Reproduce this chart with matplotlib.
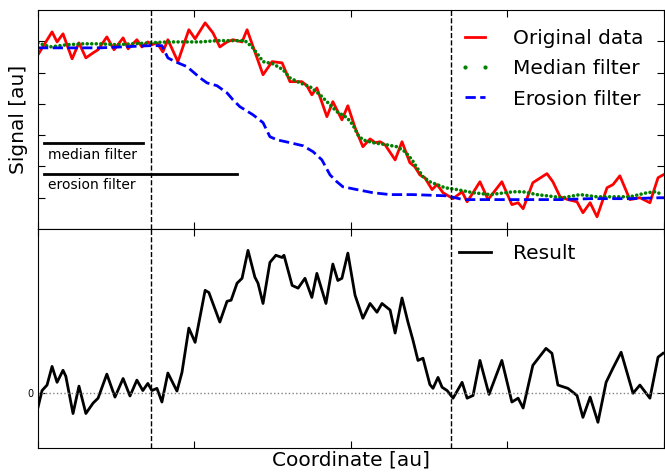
import matplotlib
matplotlib.use('Agg')
import matplotlib.pyplot as plt
from matplotlib.lines import Line2D

# Original noisy signal (coordinate, signal)
orig_x = [0, 4.5, 6.1, 8.0, 10.9, 13.1, 15.3, 17.6, 19.2, 22.0, 24.3, 27.2, 28.8, 31.6, 33.2,
          35.1, 36.4, 38.0, 39.9, 41.5, 44.7, 48.2, 50.2, 53.4, 55.9, 58.1, 60.4, 62.3, 65.2,
          66.8, 71.9, 74.8, 78.0, 80.5, 84.3, 85.9, 87.5, 89.1, 92.3, 94.2, 97.1, 99.0, 101.3,
          103.8, 106.1, 107.7, 109.3, 110.9, 114.1, 116.3, 118.8, 120.4, 122.0, 123.6, 125.9,
          127.5, 129.4, 132.6, 135.5, 137.1, 139.0, 141.2, 143.8, 148.2, 151.4, 153.4, 155.0,
          158.1, 162.6, 164.5, 166.8, 169.3, 172.2, 174.1, 176.4, 178.6, 181.8, 183.7, 185.9,
          189.1, 192.3, 195.5, 198.1, 199.7]
orig_y = [4.57, 5.30, 4.98, 5.24, 4.44, 4.95, 4.47, 4.63, 4.73, 5.14, 4.73, 5.11, 4.76, 5.05, 4.82,
          4.98, 4.89, 4.95, 4.66, 5.05, 4.35, 5.37, 5.08, 5.59, 5.27, 4.82, 4.98, 5.05, 4.98,
          5.37, 3.93, 4.35, 4.31, 3.71, 3.71, 3.58, 3.29, 3.51, 2.59, 3.07, 2.49, 2.94, 2.24,
          1.63, 1.88, 1.76, 1.79, 1.69, 1.21, 1.79, 1.12, 0.99, 0.73, 0.64, 0.26,
          0.42, 0.16, -0.03, 0.19, -0.13, 0.16, 0.51, -0.06, 0.51, -0.22, -0.16, -0.35,
          0.48, 0.77, 0.51, 0.03, -0.06, -0.13, -0.48, -0.16, -0.61, 0.32, 0.42, 0.70,
          -0.06, 0.00, -0.16, 0.64, 0.73]

# Median filtered signal
med_x = [0, 3.8, 9.3, 14.4, 19.8, 25.2, 30.4, 35.8, 41.2, 46.3, 51.8, 57.2, 62.3, 66.1, 68.4,
         70.3, 71.9, 75.1, 78.3, 80.5, 83.7, 86.9, 90.1, 93.3, 95.5, 98.7, 100.6, 102.2, 103.8,
         107.0, 111.5, 114.7, 117.3, 119.5, 121.1, 123.0, 125.2, 127.5, 130.0, 133.9, 139.0,
         144.4, 151.8, 155.0, 159.4, 167.7, 173.2, 178.6, 183.7, 189.1, 194.6, 197.1, 199.7]
med_y = [4.95, 4.82, 4.89, 4.92, 4.92, 4.89, 4.92, 4.95, 4.98, 4.98, 4.98, 5.02, 5.02, 5.02, 4.82,
         4.57, 4.35, 4.28, 4.09, 3.83, 3.67, 3.55, 3.29, 2.97, 2.75, 2.56, 2.33, 2.01, 1.85,
         1.76, 1.69, 1.63, 1.47, 1.21, 0.96, 0.67, 0.51, 0.42, 0.32, 0.26, 0.16,
         0.10, 0.19, 0.19, 0.10, 0.00, 0.10, 0.03, 0.03, 0.03, 0.16, 0.19, 0.10]

# Erosion filtered signal
ero_x = [0, 19.8, 35.8, 39.6, 41.5, 43.8, 47.6, 51.8, 54.0, 57.2, 60.4, 62.3, 64.5, 68.7, 71.9,
         74.1, 76.4, 80.5, 84.7, 87.9, 90.7, 93.3, 95.5, 97.4, 101.9, 107.0, 112.5, 119.8,
         130.7, 135.8, 166.8, 176.4, 189.1, 198.7, 200]
ero_y = [4.79, 4.79, 4.86, 4.86, 4.47, 4.35, 4.19, 3.83, 3.67, 3.58, 3.35, 3.13, 2.91, 2.65, 2.40,
         1.95, 1.85, 1.76, 1.66, 1.47, 1.21, 0.73, 0.51, 0.35, 0.26, 0.16, 0.10, 0.10,
         0.06, -0.06, -0.06, -0.03, -0.03, 0.00, 0.00]

# Result (bottom panel)
res_x = [0, 1.3, 2.9, 4.5, 6.1, 8.0, 8.9, 11.2, 13.1, 15.3, 17.6, 19.2, 22.0, 24.6, 27.2, 29.4,
         31.6, 33.5, 35.1, 36.4, 38.0, 39.6, 41.5, 44.4, 46.0, 48.2, 50.2, 53.4, 54.6, 58.1,
         60.4, 61.7, 63.6, 65.2, 67.1, 69.3, 70.3, 71.9, 74.1, 76.0, 78.0, 78.6, 81.2, 83.1,
         85.3, 87.5, 89.1, 92.0, 94.2, 95.8, 97.1, 99.0, 101.3, 103.8, 106.1, 108.3, 109.9,
         112.5, 114.1, 116.3, 118.2, 119.8, 121.4, 123.0, 125.2, 126.2, 127.8, 129.1, 130.7,
         132.6, 135.5, 137.1, 139.0, 141.2, 144.1, 148.2, 151.4, 153.4, 155.0, 158.1, 162.3,
         164.2, 166.1, 169.3, 172.2, 174.1, 176.4, 178.9, 181.5, 183.7, 186.3, 190.1, 192.3,
         195.5, 198.1, 199.7]
res_y = [-0.26, 0.05, 0.15, 0.49, 0.20, 0.42, 0.31, -0.37, 0.13, -0.37, -0.18, -0.09, 0.35, -0.07,
         0.27, -0.05, 0.24, 0.05, 0.18, 0.05, 0.09, -0.16, 0.37, 0.04, 0.38, 1.19, 0.93, 1.88,
         1.84, 1.30, 1.68, 1.70, 2.01, 2.10, 2.61, 2.12, 2.01, 1.64, 2.39, 2.52, 2.48, 2.52,
         1.97, 1.92, 2.10, 1.75, 2.19, 1.64, 2.36, 2.06, 2.10, 2.56, 1.79, 1.37, 1.64, 1.48,
         1.64, 1.52, 1.10, 1.74, 1.30, 0.97, 0.60, 0.64, 0.16, 0.09, 0.29, 0.11, 0.05,
         -0.09, 0.20, -0.09, -0.04, 0.60, -0.02, 0.60, -0.16, -0.09, -0.27, 0.51, 0.82,
         0.73, 0.15, 0.09, -0.04, -0.44, -0.07, -0.53, 0.20, 0.46, 0.75, 0.00, 0.15,
         -0.09, 0.66, 0.73]

# Filter window sizes and marked region
median_window = (1.9, 33.5)
erosion_window = (1.9, 63.6)
region = [36, 132]

fig = plt.figure(figsize=(6.65, 4.72), dpi=100)
ax1 = fig.add_axes([0.0571, 0.5148, 0.9414, 0.464])
ax2 = fig.add_axes([0.0571, 0.0508, 0.9414, 0.464], sharex=ax1)

# Top panel
ax1.plot(orig_x, orig_y, color='r', lw=2, label='Original data')
ax1.plot(med_x, med_y, color='g', lw=2.6, linestyle=(0, (0.01, 1.25)), dash_capstyle='round')
ax1.plot(ero_x, ero_y, color='b', lw=2, ls='--', label='Erosion filter')
ax1.plot(median_window, [1.76, 1.76], color='k', lw=2)
ax1.plot(erosion_window, [0.77, 0.77], color='k', lw=2)
ax1.text(3.2, 1.37, 'median filter', fontsize=10, va='center')
ax1.text(3.2, 0.42, 'erosion filter', fontsize=10, va='center')
for xv in region:
    ax1.axvline(xv, color='k', ls='--', lw=1)

# legends start at the right dashed line
leg_x = (region[1] - 0) / 200.0
handles = [Line2D([], [], color='r', lw=2),
           Line2D([], [], color='g', marker='.', ls='none', markersize=4),
           Line2D([], [], color='b', lw=2, ls='--')]
ax1.legend(handles, ['Original data', 'Median filter', 'Erosion filter'],
           loc='upper left', bbox_to_anchor=(leg_x, 0.952), frameon=False,
           fontsize=14.5, numpoints=2, handlelength=1.6, handletextpad=1.05,
           labelspacing=0.57, borderaxespad=0)
ax1.set_ylim(-1, 6)
ax1.set_yticks([0, 1, 2, 3, 4, 5])
ax1.set_yticklabels([])
ax1.set_ylabel('Signal [au]', fontsize=14.5)

# Bottom panel
ax2.plot(res_x, res_y, color='k', lw=2, label='Result')
ax2.axhline(0, color='gray', ls=':', lw=1)
for xv in region:
    ax2.axvline(xv, color='k', ls='--', lw=1)
ax2.legend(loc='upper left', bbox_to_anchor=(leg_x, 0.970), frameon=False,
           fontsize=14.5, handlelength=1.6, handletextpad=1.05, borderaxespad=0)
ax2.set_ylim(-1, 3)
ax2.set_yticks([0])
ax2.set_yticklabels(['0'], fontsize=7)
ax2.set_xlabel('Coordinate [au]', fontsize=14.5, labelpad=2)

ax1.set_xlim(0, 200)
ax1.set_xticks([0, 50, 100, 150, 200])
for ax in (ax1, ax2):
    ax.tick_params(direction='in', top=True, right=True, length=5)
    ax.tick_params(axis='x', labelbottom=False)

fig.savefig('out.png', dpi=100)
